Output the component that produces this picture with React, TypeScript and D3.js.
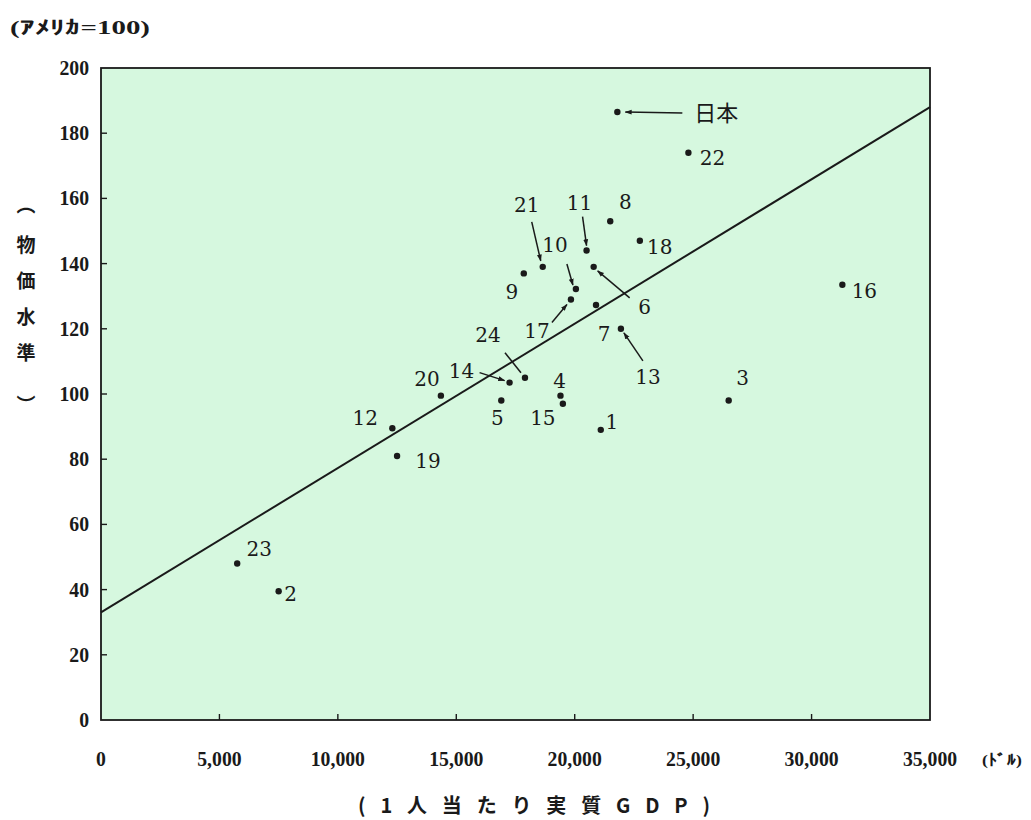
import React from "react";
import * as d3 from "d3";

// Country numbers and their values: per-capita real GDP (USD) and price level (USA = 100)
const countryLabels = ["1","2","3","4","5","6","7","8","9","10","11","12","13","14","15","16","17","18","19","20","21","22","23","24","日本"];
const gdpPerCapita = [21100, 7500, 26500, 19400, 16900, 20800, 20900, 21500, 17850, 20050, 20500, 12300, 21950, 17250, 19500, 31300, 19840, 22750, 12500, 14350, 18650, 24800, 5750, 17900, 21800];
const priceLevel = [89, 39.5, 98, 99.5, 98, 139, 127.3, 153, 137, 132.2, 144, 89.5, 120, 103.5, 97, 133.5, 129, 147, 81, 99.5, 139, 174, 48, 105, 186.5];

// Fitted regression line: intercept and slope
const lineIntercept = 33;
const lineSlope = 0.004429;

const xTicks = [0, 5000, 10000, 15000, 20000, 25000, 30000, 35000];
const yTicks = [0, 20, 40, 60, 80, 100, 120, 140, 160, 180, 200];

// Label placement (pixel offsets from the dot) and optional leader arrows
type Note = { lx: number; ly: number; a?: [number, number, number, number]; head?: boolean; size?: number };
const notes: Record<string, Note> = {
  "1": { lx: 11, ly: -8 },
  "2": { lx: 12, ly: 3 },
  "3": { lx: 14, ly: -23 },
  "4": { lx: -1, ly: -15 },
  "5": { lx: -4, ly: 17 },
  "6": { lx: 51, ly: 40, a: [36, 31, 4, 4], head: true },
  "7": { lx: 8, ly: 29 },
  "8": { lx: 15, ly: -19 },
  "9": { lx: -12, ly: 18 },
  "10": { lx: -21, ly: -44, a: [-9, -25, -3, -4], head: true },
  "11": { lx: -7, ly: -48, a: [-4, -34, 0, -5], head: true },
  "12": { lx: -27, ly: -10 },
  "13": { lx: 27, ly: 48, a: [22, 32, 3, 4], head: true },
  "14": { lx: -48, ly: -12, a: [-30, -10, -5, -2], head: true },
  "15": { lx: -20, ly: 14 },
  "16": { lx: 22, ly: 6 },
  "17": { lx: -34, ly: 31, a: [-19, 23, -4, 5], head: true },
  "18": { lx: 20, ly: 6 },
  "19": { lx: 31, ly: 5 },
  "20": { lx: -14, ly: -17 },
  "21": { lx: -16, ly: -62, a: [-11, -45, -2, -6], head: true },
  "22": { lx: 24, ly: 5 },
  "23": { lx: 22, ly: -15 },
  "24": { lx: -37, ly: -43, a: [-20, -25, -4, -5], head: false },
  "日本": { lx: 99, ly: 1, a: [65, 1, 8, 0], head: true, size: 22 },
};

const W = 1031;
const H = 820;
const M = { left: 101, right: 930, top: 68, bottom: 720 };

export default function App() {
  const x = d3.scaleLinear().domain([0, 35000]).range([M.left, M.right]);
  const y = d3.scaleLinear().domain([0, 200]).range([M.bottom, M.top]);
  const fmt = d3.format(",");
  const fitLine = d3.line<number>()
    .x((d) => x(d))
    .y((d) => y(lineIntercept + lineSlope * d));

  const serif = "'DejaVu Serif', 'Liberation Serif', serif";
  const tickFont = "'Liberation Serif', serif";
  const cjk = "'Noto Sans CJK JP', sans-serif";
  const ink = "#1a1a1a";

  // bold serif, slightly condensed, used for tick numbers
  const tickText = (key: string, tx: number, ty: number, anchor: string, s: string) => (
    <text
      key={key}
      transform={`translate(${tx},${ty}) scale(0.94,1)`}
      textAnchor={anchor}
      fontFamily={tickFont}
      fontWeight="bold"
      fontSize={21}
      fill={ink}
    >
      {s}
    </text>
  );

  return (
    <svg width={W} height={H} style={{ position: "absolute", left: 0, top: 0, background: "#fff" }}>
      <defs>
        <marker id="ah" viewBox="0 0 10 10" refX="9" refY="5" markerWidth="7" markerHeight="7" orient="auto-start-reverse" markerUnits="userSpaceOnUse">
          <path d="M0,1.5 L10,5 L0,8.5 Z" fill={ink} />
        </marker>
      </defs>

      {/* plot background and frame */}
      <rect x={M.left} y={M.top} width={M.right - M.left} height={M.bottom - M.top} fill="#d6f8df" stroke={ink} strokeWidth={1.8} />

      {/* inward ticks */}
      {xTicks.slice(1, -1).map((t) => (
        <line key={"xt" + t} x1={x(t)} x2={x(t)} y1={M.bottom} y2={M.bottom - 6} stroke={ink} strokeWidth={1.4} />
      ))}
      {yTicks.slice(1, -1).map((t) => (
        <line key={"yt" + t} x1={M.left} x2={M.left + 6} y1={y(t)} y2={y(t)} stroke={ink} strokeWidth={1.4} />
      ))}

      {/* tick labels */}
      {xTicks.map((t) => tickText("xl" + t, x(t), 766, "middle", fmt(t)))}
      {yTicks.map((t) => tickText("yl" + t, 89, y(t) + 7, "end", String(t)))}

      {/* unit labels */}
      <text x={10} y={34} fontFamily={tickFont} fontWeight="bold" fontSize={19} textLength={140} lengthAdjust="spacingAndGlyphs" fill={ink}>
        (ｱﾒﾘｶ=100)
      </text>
      <text x={982} y={765} fontFamily={tickFont} fontWeight="bold" fontSize={15} textLength={40} lengthAdjust="spacingAndGlyphs" fill={ink}>
        (ﾄﾞﾙ)
      </text>

      {/* axis titles */}
      <text x={358} y={813} fontFamily={cjk} fontWeight="bold" fontSize={20} textLength={352} lengthAdjust="spacing" fill={ink}>
        (1人当たり実質GDP)
      </text>
      {["︵", "物", "価", "水", "準", "︶"].map((c, i) => (
        <text key={"yc" + i} x={26} y={[212, 252, 288, 324, 360, 412][i]} textAnchor="middle" fontFamily={cjk} fontWeight="bold" fontSize={19} fill={ink}>
          {c}
        </text>
      ))}

      {/* regression line */}
      <path d={fitLine([0, 35000]) || ""} fill="none" stroke={ink} strokeWidth={2} />

      {/* points, labels and leader arrows */}
      {countryLabels.map((name, i) => {
        const px = x(gdpPerCapita[i]);
        const py = y(priceLevel[i]);
        const n = notes[name];
        return (
          <g key={name}>
            <circle cx={px} cy={py} r={3.2} fill={ink} />
            {n.a && (
              <line
                x1={px + n.a[0]} y1={py + n.a[1]} x2={px + n.a[2]} y2={py + n.a[3]}
                stroke={ink} strokeWidth={1.5}
                markerEnd={n.head ? "url(#ah)" : undefined}
              />
            )}
            <text
              x={px + n.lx} y={py + n.ly} dy="0.36em" textAnchor="middle"
              fontFamily={name === "日本" ? cjk : serif}
              fontSize={n.size ?? 20} fill={ink}
            >
              {name}
            </text>
          </g>
        );
      })}
    </svg>
  );
}
